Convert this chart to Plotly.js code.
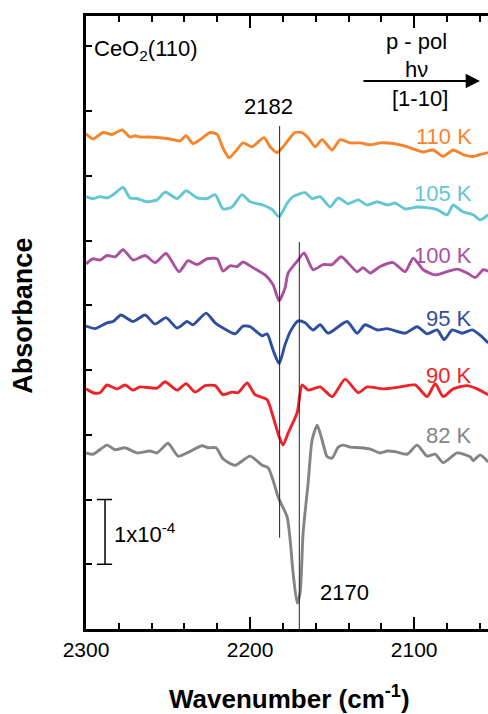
<!DOCTYPE html>
<html>
<head>
<meta charset="utf-8">
<script src="https://cdn.plot.ly/plotly-3.0.1.min.js"></script>
<style>html,body{margin:0;padding:0;background:#fff;}#chart{width:488px;height:714px;}</style>
</head>
<body>
<div id="chart"></div>
<script>
// Wavenumber (cm^-1) and absorbance (units of 1e-4, stacked offsets included)
const wn110 = [2300.0,2295.7,2289.6,2284.1,2278.0,2273.2,2270.1,2267.1,2262.8,2254.9,2248.8,2242.7,2239.0,2234.8,2230.5,2224.4,2220.1,2216.5,2212.8,2208.5,2204.3,2198.8,2191.5,2187.8,2183.5,2179.9,2175.6,2172.6,2168.3,2164.6,2160.4,2156.1,2150.0,2145.1,2139.0,2132.9,2126.8,2120.7,2112.8,2104.3,2094.5,2088.4,2082.3,2076.2,2070.1,2064.0,2059.8,2054.9];
const abs110 = [7.65,7.57,7.67,7.64,7.71,7.60,7.62,7.60,7.60,7.59,7.57,7.54,7.62,7.50,7.56,7.67,7.64,7.43,7.28,7.39,7.51,7.45,7.59,7.45,7.36,7.45,7.59,7.67,7.67,7.59,7.45,7.56,7.40,7.56,7.51,7.51,7.48,7.51,7.50,7.45,7.37,7.40,7.30,7.40,7.33,7.30,7.33,7.36];

const wn105 = [2300.0,2295.7,2291.5,2287.2,2283.5,2277.4,2273.2,2268.9,2262.8,2256.7,2251.8,2244.5,2239.0,2232.3,2226.2,2221.3,2216.5,2211.0,2204.9,2200.0,2192.1,2186.6,2182.3,2177.4,2173.8,2166.5,2162.2,2157.3,2151.2,2146.3,2140.2,2134.1,2128.7,2122.6,2116.5,2111.6,2105.5,2098.2,2092.1,2086.0,2079.9,2076.2,2070.7,2064.0,2059.8,2054.9];
const abs105 = [6.68,6.65,6.68,6.66,6.71,6.82,6.66,6.65,6.60,6.63,6.75,6.65,6.77,6.66,6.65,6.71,6.49,6.52,6.71,6.60,6.55,6.48,6.37,6.58,6.68,6.74,6.65,6.68,6.52,6.66,6.57,6.63,6.55,6.60,6.55,6.58,6.49,6.52,6.51,6.48,6.40,6.55,6.45,6.40,6.32,6.40];

const wn100 = [2300.0,2295.7,2291.5,2287.2,2282.3,2277.4,2271.3,2264.0,2257.9,2251.2,2243.3,2237.8,2232.3,2226.2,2220.1,2216.5,2212.2,2207.9,2204.3,2198.2,2190.9,2186.0,2182.3,2178.7,2176.8,2170.7,2167.1,2161.6,2155.5,2150.0,2144.5,2134.8,2131.1,2126.8,2120.7,2112.8,2105.5,2100.6,2094.5,2087.2,2079.9,2073.8,2067.7,2062.8,2057.9,2054.9];
const abs100 = [5.64,5.72,5.70,5.77,5.75,5.86,5.70,5.77,5.66,5.80,5.52,5.69,5.63,5.72,5.72,5.53,5.61,5.60,5.67,5.58,5.47,5.32,5.07,5.27,5.50,5.70,5.81,5.55,5.63,5.63,5.75,5.52,5.58,5.50,5.60,5.66,5.52,5.73,5.55,5.47,5.52,5.56,5.50,5.43,5.55,5.53];

const wn95 = [2300.0,2294.5,2287.2,2283.5,2278.7,2271.3,2264.0,2257.9,2251.2,2244.5,2238.4,2234.8,2226.8,2221.3,2216.5,2209.1,2204.3,2200.0,2192.7,2189.6,2186.0,2182.3,2178.7,2175.6,2170.7,2166.5,2161.6,2157.3,2152.4,2140.9,2134.8,2129.9,2122.6,2116.5,2105.5,2098.2,2092.1,2086.0,2081.7,2076.8,2070.7,2064.6,2058.5,2054.9];
const abs95 = [4.68,4.64,4.73,4.75,4.85,4.75,4.85,4.71,4.81,4.65,4.75,4.70,4.88,4.73,4.65,4.56,4.68,4.67,4.53,4.56,4.31,4.10,4.39,4.59,4.76,4.73,4.62,4.70,4.57,4.75,4.57,4.70,4.62,4.64,4.57,4.67,4.56,4.62,4.47,4.62,4.57,4.62,4.51,4.42];

const wn90 = [2300.0,2295.7,2291.5,2287.2,2281.1,2276.2,2271.3,2267.1,2256.7,2251.8,2244.5,2239.0,2233.5,2227.4,2221.3,2216.5,2211.0,2207.3,2201.8,2197.0,2189.6,2186.0,2182.3,2179.9,2176.8,2171.3,2168.3,2164.6,2157.3,2150.0,2142.1,2134.1,2128.7,2118.9,2108.5,2099.4,2092.1,2087.2,2082.3,2076.2,2067.7,2061.6,2054.9];
const abs90 = [3.71,3.65,3.65,3.77,3.71,3.77,3.69,3.74,3.72,3.82,3.69,3.79,3.66,3.76,3.76,3.62,3.66,3.65,3.80,3.62,3.54,3.28,2.97,2.84,3.03,3.34,3.77,3.69,3.74,3.59,3.86,3.65,3.74,3.71,3.74,3.77,3.59,3.79,3.59,3.71,3.76,3.71,3.62];

const wn82 = [2300.0,2295.7,2287.2,2282.3,2276.2,2268.9,2261.0,2256.7,2250.0,2243.9,2238.4,2229.3,2225.6,2220.7,2216.5,2209.1,2200.0,2192.7,2189.0,2186.0,2182.9,2177.4,2175.6,2173.8,2171.3,2169.5,2167.7,2164.6,2162.2,2159.1,2156.1,2153.0,2150.0,2146.3,2143.3,2139.0,2132.9,2126.8,2120.7,2116.5,2111.6,2104.3,2098.2,2092.1,2087.2,2082.3,2073.8,2065.9,2064.0,2059.8,2054.9];
const abs82 = [2.72,2.70,2.84,2.77,2.80,2.72,2.75,2.72,2.87,2.67,2.72,2.83,2.80,2.80,2.63,2.53,2.67,2.53,2.49,2.30,2.04,1.73,1.38,0.87,0.40,0.56,1.48,2.26,2.92,3.15,2.92,2.66,2.64,2.81,2.84,2.81,2.80,2.78,2.72,2.75,2.74,2.70,2.84,2.67,2.70,2.57,2.72,2.66,2.60,2.69,2.58];

const seriesLabels = ['110 K','105 K','100 K','95 K','90 K','82 K'];
const seriesColors = ['#F7842B','#62C6D3','#A9509F','#2E4F9F','#EE2328','#848484'];
const seriesX = [wn110, wn105, wn100, wn95, wn90, wn82];
const seriesY = [abs110, abs105, abs100, abs95, abs90, abs82];
const labelY = [0.804, 0.711, 0.610, 0.507, 0.414, 0.316];

const peakLines = [2182, 2170];
const peakLabels = ['2182', '2170'];
const xTicks = [2300, 2200, 2100];

const FONT = 'Liberation Sans, Arial, Helvetica, sans-serif';

const traces = seriesX.map((x, i) => ({
  x: x, y: seriesY[i], type: 'scatter', mode: 'lines',
  line: {color: seriesColors[i], width: 2.9, shape: 'spline', smoothing: 0.6},
  hoverinfo: 'skip', showlegend: false
}));

const annotations = seriesLabels.map((t, i) => ({
  text: t, xref: 'paper', yref: 'paper', x: 0.966, y: labelY[i],
  xanchor: 'right', yanchor: 'middle', showarrow: false,
  font: {family: FONT, size: 22, color: seriesColors[i]}
}));

annotations.push(
  {text: peakLabels[0], xref: 'x', yref: 'paper', x: 2189, y: 0.853, xanchor: 'center', yanchor: 'middle', showarrow: false, font: {family: FONT, size: 22, color: '#000'}},
  {text: peakLabels[1], xref: 'x', yref: 'paper', x: 2142.5, y: 0.059, xanchor: 'center', yanchor: 'middle', showarrow: false, font: {family: FONT, size: 22, color: '#000'}},
  {text: 'CeO<sub>2</sub>(110)', xref: 'paper', yref: 'paper', x: 0.015, y: 0.945, xanchor: 'left', yanchor: 'middle', showarrow: false, font: {family: FONT, size: 22, color: '#000'}},
  {text: 'p - pol', xref: 'paper', yref: 'paper', x: 0.823, y: 0.958, xanchor: 'center', yanchor: 'middle', showarrow: false, font: {family: FONT, size: 22, color: '#000'}},
  {text: 'hν', xref: 'paper', yref: 'paper', x: 0.823, y: 0.912, xanchor: 'center', yanchor: 'middle', showarrow: false, font: {family: FONT, size: 22, color: '#000'}},
  {text: '[1-10]', xref: 'paper', yref: 'paper', x: 0.830, y: 0.866, xanchor: 'center', yanchor: 'middle', showarrow: false, font: {family: FONT, size: 22, color: '#000'}},
  {text: '', xref: 'paper', yref: 'paper', x: 0.980, y: 0.894, ax: -118, ay: 0, axref: 'pixel', ayref: 'pixel', showarrow: true, arrowhead: 2, arrowsize: 1.3, arrowwidth: 2.2, arrowcolor: '#000'},
  {text: '1x10<sup>-4</sup>', xref: 'paper', yref: 'paper', x: 0.065, y: 0.156, xanchor: 'left', yanchor: 'middle', showarrow: false, font: {family: FONT, size: 22, color: '#000'}},
  {text: '<b>Absorbance</b>', xref: 'paper', yref: 'paper', x: -0.157, y: 0.511, xanchor: 'center', yanchor: 'middle', textangle: -90, showarrow: false, font: {family: FONT, size: 27, color: '#000'}},
  {text: '<b>Wavenumber (cm<sup>-1</sup>)</b>', xref: 'paper', yref: 'paper', x: 0.507, y: -0.112, xanchor: 'center', yanchor: 'middle', showarrow: false, font: {family: FONT, size: 26, color: '#000'}}
);

const shapes = [
  {type: 'line', xref: 'x', yref: 'y', x0: peakLines[0], x1: peakLines[0], y0: 1.41, y1: 7.77, line: {color: '#222', width: 1}},
  {type: 'line', xref: 'x', yref: 'y', x0: peakLines[1], x1: peakLines[1], y0: 0, y1: 5.98, line: {color: '#222', width: 1}},
  // scale bar (1x10^-4)
  {type: 'line', xref: 'x', yref: 'y', x0: 2288.4, x1: 2288.4, y0: 1, y1: 2, line: {color: '#000', width: 1.5}},
  {type: 'line', xref: 'x', yref: 'y', x0: 2293.3, x1: 2284.1, y0: 1, y1: 1, line: {color: '#000', width: 1.5}},
  {type: 'line', xref: 'x', yref: 'y', x0: 2293.3, x1: 2284.1, y0: 2, y1: 2, line: {color: '#000', width: 1.5}}
];

const layout = {
  width: 488, height: 714,
  margin: {l: 86, r: 0, t: 16, b: 85},
  paper_bgcolor: '#fff', plot_bgcolor: '#fff',
  showlegend: false,
  font: {family: FONT, color: '#000'},
  xaxis: {
    range: [2300, 2055], tickvals: xTicks, ticktext: xTicks.map(String),
    ticks: 'inside', ticklen: 12, tickwidth: 2, tickcolor: '#000',
    minor: {dtick: 20, tick0: 2300, ticks: 'inside', ticklen: 6, tickwidth: 2, tickcolor: '#000'},
    showline: true, linewidth: 3, linecolor: '#000', mirror: 'ticks',
    showgrid: false, zeroline: false,
    tickfont: {family: FONT, size: 21, color: '#000'},
    ticklabelstandoff: 0
  },
  yaxis: {
    range: [0, 9.47], tick0: 0, dtick: 1,
    ticks: 'inside', ticklen: 6, tickwidth: 2, tickcolor: '#000',
    showticklabels: false, showline: true, linewidth: 3, linecolor: '#000',
    showgrid: false, zeroline: false
  },
  annotations: annotations,
  shapes: shapes
};

Plotly.newPlot('chart', traces, layout, {displayModeBar: false, staticPlot: true});
</script>
</body>
</html>
